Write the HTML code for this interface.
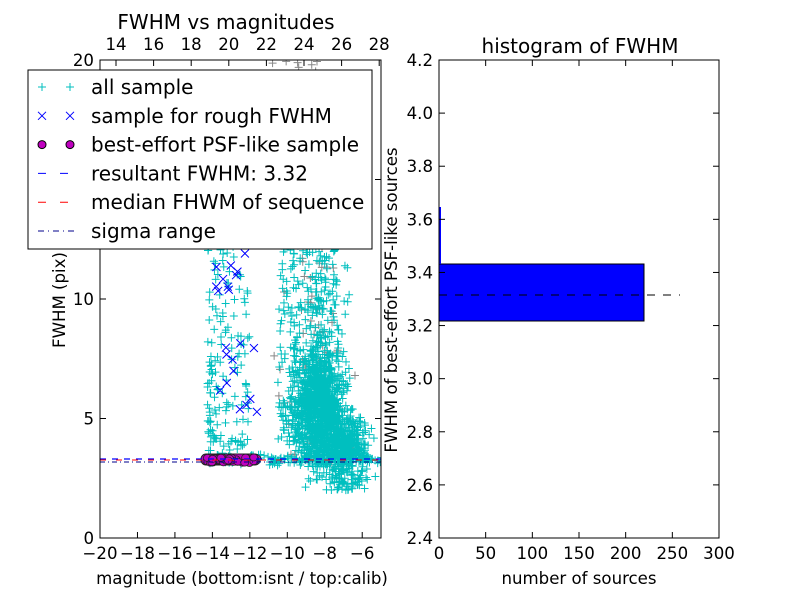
<!DOCTYPE html><html><head><style>body{margin:0;background:#fff;}svg text{font-family:"DejaVu Sans","Liberation Sans",sans-serif;}</style></head><body>
<svg id="s" width="800" height="600" xmlns="http://www.w3.org/2000/svg">
<rect width="800" height="600" fill="#fff"/>
<g id="pts"></g>
<g font-size="16.6" fill="#000">
<text x="226" y="29" text-anchor="middle" font-size="20">FWHM vs magnitudes</text>
<text x="580" y="53" text-anchor="middle" font-size="20">histogram of FWHM</text>
<text x="242" y="584" text-anchor="middle">magnitude (bottom:isnt / top:calib)</text>
<text x="579" y="584" text-anchor="middle">number of sources</text>
<text transform="translate(65,300) rotate(-90)" text-anchor="middle">FWHM (pix)</text>
<text transform="translate(397,300) rotate(-90)" text-anchor="middle">FWHM of best-effort PSF-like sources</text>
</g>
<g id="ax"></g>
</svg>
<script>
var NS="http://www.w3.org/2000/svg";
function el(p,t,a){var e=document.createElementNS(NS,t);for(var k in a)e.setAttribute(k,a[k]);p.appendChild(e);return e;}
var seed=7;function r(){seed=(seed*16807)%2147483647;return seed/2147483647;}
function g(){return (r()+r()+r()+r()-2)/1.15;}
var P=document.getElementById('pts'),A=document.getElementById('ax');
var clip=el(P,'clipPath',{id:'c'});el(clip,'rect',{x:100,y:60,width:281,height:478});
var G=el(P,'g',{'clip-path':'url(#c)'});
function X(v){return 100+(v+20)*18.73;}function Y(v){return 538-v*23.9;}
var d='',dg='';
function plus(x,y){return 'M'+(x-4)+' '+y+'h8M'+x+' '+(y-4)+'v8';}
for(var i=0;i<1500;i++){var m=-8.3+g()*1.3;var f=5.5+g()*2.2;if(r()<0.3)f=3+r()*14;if(f<2)f=2+r();d+=plus(X(m),Y(f));}
for(var i=0;i<500;i++){var m=-7+g()*1.4;var f=3.4+Math.abs(g())*1.6;if(r()<0.3)f=2+r()*1.5;d+=plus(X(m),Y(f));}
for(var i=0;i<160;i++){var m=-13.9+r()*1.9;var f=3.6+Math.pow(r(),1.3)*9.5;if(r()<0.4)m=-14.3+r()*0.5;d+=plus(X(m),Y(f));}
for(var i=0;i<100;i++){var m=-10.5+r()*1.2;var f=4+r()*9;d+=plus(X(m),Y(f));}
for(var i=0;i<130;i++){var m=-8.5+g()*2;var f=3+r()*17;dg+=plus(X(m),Y(f));}
for(var i=0;i<160;i++){var m=-14.4+r()*9.5;var f=3.3+g()*0.2;d+=plus(X(m),Y(f));}
el(G,'path',{d:dg,stroke:'#888',fill:'none','stroke-width':1});
el(G,'path',{d:d,stroke:'#00bfbf',fill:'none','stroke-width':1});
var dx='';for(var i=0;i<22;i++){var m=-14+r()*2.4,f=5+r()*7;var x=X(m),y=Y(f);dx+='M'+(x-4)+' '+(y-4)+'l8 8M'+(x+4)+' '+(y-4)+'l-8 8';}
el(G,'path',{d:dx,stroke:'#00f',fill:'none','stroke-width':1});
el(G,'rect',{x:201,y:454,width:59,height:11,rx:5,fill:'#bf00bf',stroke:'#222'});
for(var i=0;i<40;i++)el(G,'ellipse',{cx:204+r()*53,cy:457+r()*6,rx:4,ry:3.5,fill:'#bf00bf',stroke:'#222','stroke-width':0.8});
el(G,'line',{x1:100,y1:459,x2:381,y2:459,stroke:'#00f','stroke-dasharray':'6,6','stroke-width':1.2});
el(G,'line',{x1:100,y1:460,x2:381,y2:460,stroke:'#f00','stroke-dasharray':'6,10','stroke-width':1});
el(G,'line',{x1:100,y1:462,x2:381,y2:462,stroke:'#00008b','stroke-dasharray':'5,3,1,3','stroke-width':1});
el(A,'rect',{x:439,y:264,width:205,height:57,fill:'#00f',stroke:'#000'});
el(A,'rect',{x:439,y:207,width:2,height:57,fill:'#00f',stroke:'none'});
el(A,'line',{x1:439,y1:295,x2:680,y2:295,stroke:'#000','stroke-dasharray':'8,8'});
el(A,'rect',{x:100,y:60,width:281,height:478,fill:'none',stroke:'#000'});
el(A,'rect',{x:439,y:60,width:280,height:478,fill:'none',stroke:'#000'});
function T(x,y,s,anc,fs){var t=el(A,'text',{x:x,y:y,'font-size':fs||16.6,'text-anchor':anc});t.textContent=s;}
for(var v=-20;v<=-6;v+=2){var x=X(v);el(A,'line',{x1:x,y1:538,x2:x,y2:532,stroke:'#000'});T(x,559,'\u2212'+(-v),'middle');}
for(var v=14;v<=28;v+=2){var x=116+(v-14)*18.8;el(A,'line',{x1:x,y1:60,x2:x,y2:66,stroke:'#000'});T(x,50,v,'middle');}
[0,5,10,15,20].forEach(function(v){var y=Y(v);el(A,'line',{x1:100,y1:y,x2:106,y2:y,stroke:'#000'});el(A,'line',{x1:381,y1:y,x2:375,y2:y,stroke:'#000'});T(94,y+6,v,'end');});
for(var v=0;v<=300;v+=50){var x=439+v*280/300;el(A,'line',{x1:x,y1:538,x2:x,y2:532,stroke:'#000'});el(A,'line',{x1:x,y1:60,x2:x,y2:66,stroke:'#000'});T(x,559,v,'middle');}
for(var i=0;i<=9;i++){var v=2.4+i*0.2,y=538-i*478/9;el(A,'line',{x1:439,y1:y,x2:445,y2:y,stroke:'#000'});el(A,'line',{x1:719,y1:y,x2:713,y2:y,stroke:'#000'});T(433,y+6,v.toFixed(1),'end');}
el(A,'rect',{x:28,y:70,width:344,height:179,fill:'#fff',stroke:'#000'});
var labs=['all sample','sample for rough FWHM','best-effort PSF-like sample','resultant FWHM: 3.32','median FHWM of sequence','sigma range'];
labs.forEach(function(s,i){var y=87+i*28.8;T(91,y+7,s,'start',20);
if(i==0){el(A,'path',{d:plus(42,y)+plus(70,y),stroke:'#00bfbf',fill:'none'});}
if(i==1){el(A,'path',{d:'M38 '+(y-4)+'l8 8M46 '+(y-4)+'l-8 8M66 '+(y-4)+'l8 8M74 '+(y-4)+'l-8 8',stroke:'#00f',fill:'none'});}
if(i==2){el(A,'circle',{cx:42,cy:y,r:4,fill:'#bf00bf',stroke:'#000'});el(A,'circle',{cx:70,cy:y,r:4,fill:'#bf00bf',stroke:'#000'});}
if(i==3)el(A,'line',{x1:38,y1:y,x2:76,y2:y,stroke:'#00f','stroke-dasharray':'8,14'});
if(i==4)el(A,'line',{x1:38,y1:y,x2:76,y2:y,stroke:'#f00','stroke-dasharray':'8,14'});
if(i==5)el(A,'line',{x1:38,y1:y,x2:76,y2:y,stroke:'#00008b','stroke-dasharray':'6,4,1,4'});});
</script></body></html>
